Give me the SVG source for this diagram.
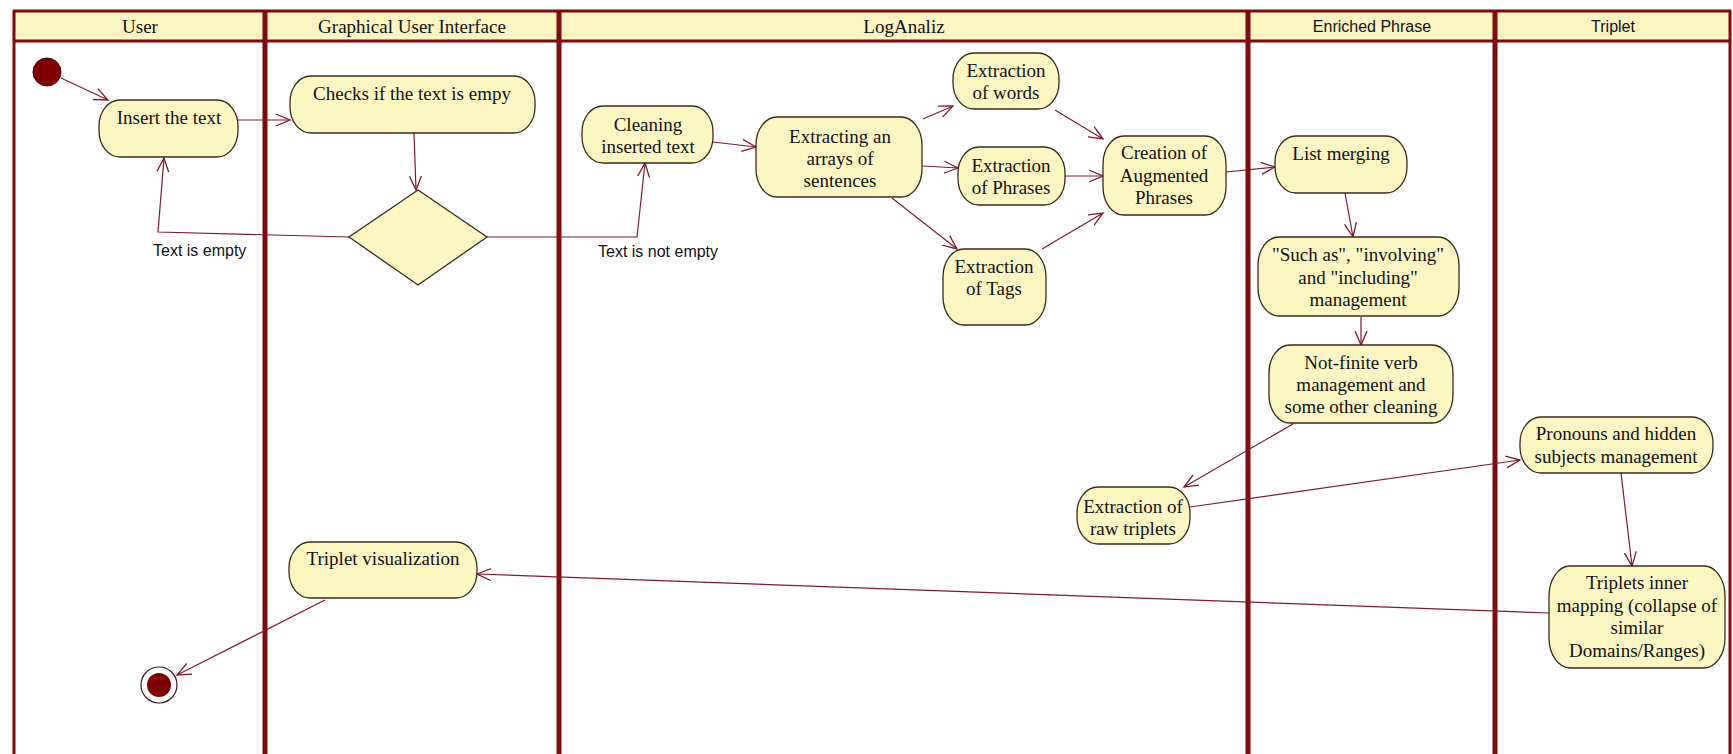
<svg xmlns="http://www.w3.org/2000/svg" width="1733" height="754" viewBox="0 0 1733 754">
  <defs>
    <style>
      .lane { stroke: #7d0b0b; stroke-width: 5; fill: none; }
      .frame { stroke: #7d0b0b; stroke-width: 3; fill: none; }
      .head { fill: #fcf5c2; }
      .title-serif { font-family: "Liberation Serif", "Times New Roman", serif; font-size: 19px; fill: #111; text-anchor: middle; }
      .title-sans { font-family: "Liberation Sans", Arial, sans-serif; font-size: 16px; fill: #111; text-anchor: middle; }
      .act { fill: #fcf6c3; stroke: #3a2a18; stroke-width: 1.3; }
      .txt { font-family: "Liberation Serif", "Times New Roman", serif; font-size: 19px; fill: #111; text-anchor: middle; }
      .lbl { font-family: "Liberation Sans", Arial, sans-serif; font-size: 16px; fill: #111; }
      .flow { fill: none; stroke: #7a1c2c; stroke-width: 1.2; marker-end: url(#open); }
    </style>
    <marker id="open" markerUnits="userSpaceOnUse" markerWidth="18" markerHeight="16" refX="14" refY="7" orient="auto">
      <path d="M0,1 L14,7 L0,13" fill="none" stroke="#7a1c2c" stroke-width="1.3"/>
    </marker>
  </defs>

  <rect width="1733" height="754" fill="#ffffff"/>

  <!-- swimlane frame and headers -->
  <g id="swimlanes">
    <rect class="head" x="13" y="11" width="1718" height="30"/>
    <line class="frame" x1="13" y1="11" x2="1731" y2="11"/>
    <line class="frame" x1="13" y1="41" x2="1731" y2="41"/>
    <line class="frame" x1="14" y1="10" x2="14" y2="754"/>
    <line class="frame" x1="1730" y1="10" x2="1730" y2="754"/>
    <line class="lane" x1="265" y1="10" x2="265" y2="754"/>
    <line class="lane" x1="559" y1="10" x2="559" y2="754"/>
    <line class="lane" x1="1248" y1="10" x2="1248" y2="754"/>
    <line class="lane" x1="1495" y1="10" x2="1495" y2="754"/>
    <text class="title-serif" x="140" y="33">User</text>
    <text class="title-serif" x="412" y="33">Graphical User Interface</text>
    <text class="title-serif" x="904" y="33">LogAnaliz</text>
    <text class="title-sans" x="1372" y="32">Enriched Phrase</text>
    <text class="title-sans" x="1613" y="32">Triplet</text>
  </g>

  <!-- transitions -->
  <g id="connectors">
    <path class="flow" d="M61,78 L108,100"/>
    <path class="flow" d="M238,120 L290,120"/>
    <path class="flow" d="M414,133 L416,190"/>
    <path class="flow" d="M349,237 L158,232 L164,158"/>
    <path class="flow" d="M487,237 L637,237 L645,163"/>
    <path class="flow" d="M713,142 L756,147"/>
    <path class="flow" d="M923,119 L953,106"/>
    <path class="flow" d="M923,166 L958,168"/>
    <path class="flow" d="M892,198 L957,249"/>
    <path class="flow" d="M1055,110 L1103,139"/>
    <path class="flow" d="M1065,176 L1103,176"/>
    <path class="flow" d="M1042,249 L1103,213"/>
    <path class="flow" d="M1226,172 L1275,167"/>
    <path class="flow" d="M1345,193 L1353,237"/>
    <path class="flow" d="M1361,317 L1361,345"/>
    <path class="flow" d="M1293,424 L1184,487"/>
    <path class="flow" d="M1190,507 L1520,460"/>
    <path class="flow" d="M1621,473 L1632,566"/>
    <path class="flow" d="M1549,613 L477,574"/>
    <path class="flow" d="M325,600 L177,675"/>
    <text class="lbl" x="153" y="256">Text is empty</text>
    <text class="lbl" x="598" y="257">Text is not empty</text>
  </g>

  <!-- start / end -->
  <g id="start">
    <circle cx="47" cy="72" r="14" fill="#800000" stroke="#4a0000" stroke-width="1"/>
  </g>
  <g id="end">
    <circle cx="159" cy="685" r="18" fill="#ffffff" stroke="#3a1a1a" stroke-width="1.2"/>
    <circle cx="159" cy="685" r="12" fill="#800000"/>
  </g>

  <!-- activities -->
  <g id="insert-text">
    <rect class="act" x="99" y="100" width="139" height="57" rx="21" ry="26"/>
    <text class="txt" x="169" y="124">Insert the text</text>
  </g>
  <g id="check-empty">
    <rect class="act" x="290" y="76" width="245" height="57" rx="21" ry="26"/>
    <text class="txt" x="412" y="100">Checks if the text is empy</text>
  </g>
  <g id="decision">
    <polygon class="act" points="418,190 487,237 418,285 349,237"/>
  </g>
  <g id="cleaning">
    <rect class="act" x="582" y="106" width="131" height="57" rx="21" ry="26"/>
    <text class="txt" x="648" y="131">Cleaning</text>
    <text class="txt" x="648" y="153">inserted text</text>
  </g>
  <g id="extract-sentences">
    <rect class="act" x="756" y="117" width="166" height="80" rx="21" ry="28"/>
    <text class="txt" x="840" y="143">Extracting an</text>
    <text class="txt" x="840" y="165">arrays of</text>
    <text class="txt" x="840" y="187">sentences</text>
  </g>
  <g id="extract-words">
    <rect class="act" x="953" y="53" width="106" height="56" rx="21" ry="26"/>
    <text class="txt" x="1006" y="77">Extraction</text>
    <text class="txt" x="1006" y="99">of words</text>
  </g>
  <g id="extract-phrases">
    <rect class="act" x="958" y="147" width="107" height="58" rx="21" ry="26"/>
    <text class="txt" x="1011" y="172">Extraction</text>
    <text class="txt" x="1011" y="194">of Phrases</text>
  </g>
  <g id="extract-tags">
    <rect class="act" x="943" y="249" width="103" height="76" rx="21" ry="28"/>
    <text class="txt" x="994" y="273">Extraction</text>
    <text class="txt" x="994" y="295">of Tags</text>
  </g>
  <g id="augmented">
    <rect class="act" x="1103" y="136" width="123" height="79" rx="21" ry="28"/>
    <text class="txt" x="1164" y="159">Creation of</text>
    <text class="txt" x="1164" y="182">Augmented</text>
    <text class="txt" x="1164" y="204">Phrases</text>
  </g>
  <g id="list-merging">
    <rect class="act" x="1275" y="136" width="132" height="57" rx="21" ry="26"/>
    <text class="txt" x="1341" y="160">List merging</text>
  </g>
  <g id="such-as">
    <rect class="act" x="1258" y="237" width="201" height="79" rx="21" ry="28"/>
    <text class="txt" x="1358" y="261">"Such as", "involving"</text>
    <text class="txt" x="1358" y="284">and "including"</text>
    <text class="txt" x="1358" y="306">management</text>
  </g>
  <g id="not-finite">
    <rect class="act" x="1269" y="345" width="184" height="78" rx="21" ry="28"/>
    <text class="txt" x="1361" y="369">Not-finite verb</text>
    <text class="txt" x="1361" y="391">management and</text>
    <text class="txt" x="1361" y="413">some other cleaning</text>
  </g>
  <g id="raw-triplets">
    <rect class="act" x="1077" y="487" width="113" height="57" rx="21" ry="26"/>
    <text class="txt" x="1133" y="513">Extraction of</text>
    <text class="txt" x="1133" y="535">raw triplets</text>
  </g>
  <g id="pronouns">
    <rect class="act" x="1520" y="417" width="193" height="56" rx="21" ry="26"/>
    <text class="txt" x="1616" y="440">Pronouns and hidden</text>
    <text class="txt" x="1616" y="463">subjects management</text>
  </g>
  <g id="inner-mapping">
    <rect class="act" x="1549" y="566" width="176" height="102" rx="21" ry="30"/>
    <text class="txt" x="1637" y="589">Triplets inner</text>
    <text class="txt" x="1637" y="612">mapping (collapse of</text>
    <text class="txt" x="1637" y="634">similar</text>
    <text class="txt" x="1637" y="657">Domains/Ranges)</text>
  </g>
  <g id="triplet-visualization">
    <rect class="act" x="289" y="542" width="188" height="56" rx="21" ry="26"/>
    <text class="txt" x="383" y="565">Triplet visualization</text>
  </g>
</svg>
